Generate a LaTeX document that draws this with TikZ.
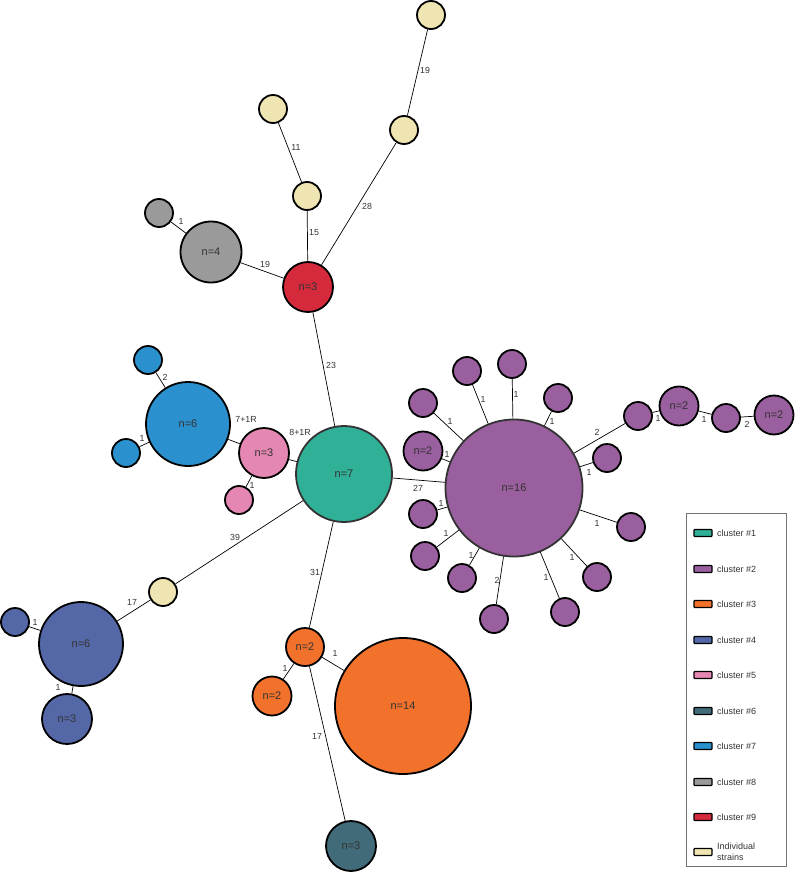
\documentclass[tikz,border=0pt]{standalone}
\usepackage{fontspec}
\setmainfont{Liberation Sans}
\definecolor{cteal}{HTML}{30B096}
\definecolor{cpurp}{HTML}{9A5F9E}
\definecolor{corng}{HTML}{F2722C}
\definecolor{cblue}{HTML}{5468A8}
\definecolor{cpink}{HTML}{E587B3}
\definecolor{cdark}{HTML}{416B78}
\definecolor{csky}{HTML}{2A91CE}
\definecolor{cgray}{HTML}{9A9A9A}
\definecolor{cred}{HTML}{D42A3C}
\definecolor{cyel}{HTML}{EFE5B2}
\definecolor{ctxt}{HTML}{333333}
\tikzset{
  blob/.style={circle, draw=black, line width=1.8pt, inner sep=0pt, text=ctxt, font=\fontsize{11}{13}\selectfont},
  sm/.style={blob, minimum size=28pt},
  md/.style={blob, minimum size=39pt},
  lg/.style={blob, minimum size=50pt},
  edge/.style={draw=black, line width=0.7pt},
  lbl/.style={text=ctxt, font=\fontsize{8.8}{10}\selectfont, inner sep=0pt},
  swatch/.style={draw=black, line width=1.3pt, minimum width=18pt, minimum height=7pt, inner sep=0pt, rounded corners=0.8pt},
  legtxt/.style={text=ctxt, font=\fontsize{9}{10.5}\selectfont, anchor=west, inner sep=0pt, align=left},
}
\begin{document}
\begin{tikzpicture}[x=1pt,y=-1pt]
\useasboundingbox (0,0) rectangle (795,872);
% top
\node[sm, fill=cyel] (y1) at (431,15) {};
\node[sm, fill=cyel] (y2) at (404,130) {};
\node[sm, fill=cyel] (y3) at (273,109) {};
\node[sm, fill=cyel] (y4) at (307,196) {};
\node[sm, fill=cgray] (g1) at (159,213) {};
\node[blob, fill=cgray, minimum size=61pt] (g4) at (211,252) {n=4};
\node[lg, fill=cred] (r3) at (308,287) {n=3};
% blue 7 / pink
\node[sm, fill=csky] (b7a) at (148,360) {};
\node[blob, fill=csky, minimum size=84pt] (b7) at (188,424) {n=6};
\node[sm, fill=csky] (b7b) at (126,453) {};
\node[lg, fill=cpink] (p5) at (264,453) {n=3};
\node[sm, fill=cpink] (p5a) at (239,500) {};
\node[blob, fill=cteal, draw=ctxt, minimum size=96pt] (t7) at (344,474) {n=7};
% purple
\node[blob, fill=cpurp, draw=ctxt, minimum size=137pt] (c2) at (514,488) {n=16};
\node[md, fill=cpurp] (pa) at (423,451) {n=2};
\node[sm, fill=cpurp] (pb) at (423,403) {};
\node[sm, fill=cpurp] (pc) at (467,371) {};
\node[sm, fill=cpurp] (pd) at (512,364) {};
\node[sm, fill=cpurp] (pe) at (558,398) {};
\node[sm, fill=cpurp] (pf) at (638,416) {};
\node[md, fill=cpurp] (pg) at (679,406) {n=2};
\node[sm, fill=cpurp] (ph) at (726,418) {};
\node[md, fill=cpurp] (pi) at (774,415) {n=2};
\node[sm, fill=cpurp] (pj) at (607,458) {};
\node[sm, fill=cpurp] (pk) at (631,527) {};
\node[sm, fill=cpurp] (pl) at (597,577) {};
\node[sm, fill=cpurp] (pm) at (565,612) {};
\node[sm, fill=cpurp] (pn) at (494,619) {};
\node[sm, fill=cpurp] (po) at (462,578) {};
\node[sm, fill=cpurp] (pp) at (425,556) {};
\node[sm, fill=cpurp] (pq) at (423,514) {};
% bottom left
\node[sm, fill=cyel] (y5) at (163,592) {};
\node[sm, fill=cblue] (b4a) at (15,622) {};
\node[blob, fill=cblue, minimum size=84pt] (b4) at (81,644) {n=6};
\node[lg, fill=cblue] (b4b) at (67,719) {n=3};
% orange
\node[blob, fill=corng, minimum size=38pt] (o2) at (305,647) {n=2};
\node[md, fill=corng] (o2b) at (272,696) {n=2};
\node[blob, fill=corng, minimum size=136pt] (o14) at (403,706) {n=14};
\node[lg, fill=cdark] (d3) at (351,846) {n=3};
% edges
\draw[edge] (y1) -- (y2);
\draw[edge] (y2) -- (r3);
\draw[edge] (y3) -- (y4);
\draw[edge] (y4) -- (r3);
\draw[edge] (g1) -- (g4);
\draw[edge] (g4) -- (r3);
\draw[edge] (r3) -- (t7);
\draw[edge] (b7a) -- (b7);
\draw[edge] (b7b) -- (b7);
\draw[edge] (b7) -- (p5);
\draw[edge] (p5) -- (t7);
\draw[edge] (p5a) -- (p5);
\draw[edge] (t7) -- (c2);
\draw[edge] (t7) -- (y5);
\draw[edge] (y5) -- (b4);
\draw[edge] (b4a) -- (b4);
\draw[edge] (b4b) -- (b4);
\draw[edge] (t7) -- (o2);
\draw[edge] (o2) -- (o2b);
\draw[edge] (o2) -- (o14);
\draw[edge] (o2) -- (d3);
\foreach \n in {pa,pb,pc,pd,pe,pf,pj,pk,pl,pm,pn,po,pp,pq} {\draw[edge] (c2) -- (\n);}
\draw[edge] (pf) -- (pg);
\draw[edge] (pg) -- (ph);
\draw[edge] (ph) -- (pi);
% labels
\node[lbl] (l1) at (425,70) {19};
\node[lbl] (l2) at (296,147) {11};
\node[lbl] (l3) at (367,206) {28};
\node[lbl] (l4) at (314,233) {15};
\node[lbl] (l5) at (181,221) {1};
\node[lbl] (l6) at (265,264) {19};
\node[lbl] (l7) at (331,365) {23};
\node[lbl] (l8) at (165,377) {2};
\node[lbl] (l9) at (142,438) {1};
\node[lbl] (l10) at (246,419) {7+1R};
\node[lbl] (l11) at (300,432) {8+1R};
\node[lbl] (l12) at (252,485) {1};
\node[lbl] (l13) at (235,537) {39};
\node[lbl] (l14) at (418,488) {27};
\node[lbl] (l15) at (450,421) {1};
\node[lbl] (l16) at (483,399) {1};
\node[lbl] (l17) at (516,394) {1};
\node[lbl] (l18) at (552,421) {1};
\node[lbl] (l19) at (597,432) {2};
\node[lbl] (l20) at (658,418) {1};
\node[lbl] (l21) at (704,419) {1};
\node[lbl] (l22) at (747,424) {2};
\node[lbl] (l23) at (447,454) {1};
\node[lbl] (l24) at (589,472) {1};
\node[lbl] (l25) at (441,503) {1};
\node[lbl] (l26) at (597,523) {1};
\node[lbl] (l27) at (446,533) {1};
\node[lbl] (l28) at (572,557) {1};
\node[lbl] (l29) at (471,555) {1};
\node[lbl] (l30) at (546,577) {1};
\node[lbl] (l31) at (497,580) {2};
\node[lbl] (l32) at (132,602) {17};
\node[lbl] (l33) at (35,622) {1};
\node[lbl] (l34) at (58,687) {1};
\node[lbl] (l35) at (315,572) {31};
\node[lbl] (l36) at (335,653) {1};
\node[lbl] (l37) at (285,668) {1};
\node[lbl] (l38) at (317,736) {17};
% legend
\node[draw=black!55, line width=0.8pt, minimum width=100pt, minimum height=353pt, inner sep=0pt] (leg) at (736,690) {};
\foreach \c/\t/\y [count=\i] in {cteal/cluster \#1/533, cpurp/cluster \#2/569, corng/cluster \#3/604, cblue/cluster \#4/640, cpink/cluster \#5/675, cdark/cluster \#6/711, csky/cluster \#7/746, cgray/cluster \#8/782, cred/cluster \#9/817} {
  \node[swatch, fill=\c] (s\i) at (703,\y) {};
  \node[legtxt] (t\i) at (717,\y) {\t};
}
\node[swatch, fill=cyel] (s10) at (703,852) {};
\node[legtxt] (t10) at (717,852) {Individual\\strains};
\end{tikzpicture}
\end{document}
